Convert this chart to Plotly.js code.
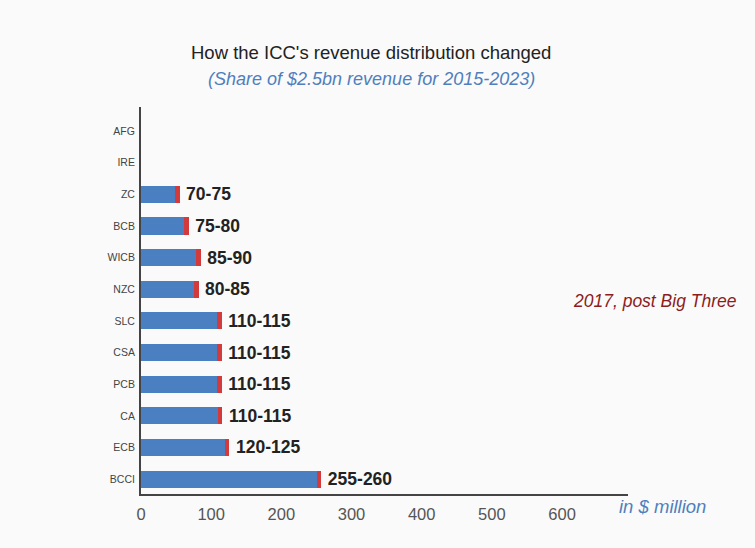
<!DOCTYPE html>
<html>
<head>
<meta charset="utf-8">
<script src="https://cdn.plot.ly/plotly-3.0.1.min.js"></script>
<style>
html,body{margin:0;padding:0;background:#fafafa;}
#chart{width:755px;height:548px;}
</style>
</head>
<body>
<div id="chart"></div>
<script>
// Boards, bottom to top
var boards = ["BCCI","ECB","CA","PCB","CSA","SLC","NZC","WICB","BCB","ZC","IRE","AFG"];
// Blue segment end (lower bound as drawn), $ million
var lowerVals = [251, 120, 110, 108, 108, 108, 75, 79, 61, 48, null, null];
// Red segment end (upper bound as drawn), $ million
var upperVals = [257, 126, 116, 115, 115, 115, 82, 85, 68, 55, null, null];
// Value labels
var rangeLabels = ["255-260","120-125","110-115","110-115","110-115","110-115","80-85","85-90","75-80","70-75","",""];
var xTicks = [0,100,200,300,400,500,600];

var redWidths = upperVals.map(function(u,i){ return (u===null||lowerVals[i]===null)?null:u-lowerVals[i]; });

var FONT = 'Liberation Sans, Arial, sans-serif';
var traces = [
  {type:'bar', orientation:'h', y:boards, x:lowerVals,
   marker:{color:'#4a7fc2', line:{width:0}}, hoverinfo:'skip', showlegend:false},
  {type:'bar', orientation:'h', y:boards, x:redWidths,
   marker:{color:'#d23a3c', line:{width:0}}, hoverinfo:'skip', showlegend:false,
   text:rangeLabels.map(function(t){return t ? '\u2009' + t : t;}), textposition:'outside', cliponaxis:false, constraintext:'none',
   textfont:{family:FONT, size:17.5, color:'#222', weight:'bold'}}
];

var pw = 755-141-127, ph = 548-107-54;
function px(x){ return (x-141)/pw; }
function py(y){ return (548-54-y)/ph; }

var layout = {
  width:755, height:548,
  paper_bgcolor:'#fafafa', plot_bgcolor:'#fafafa',
  barmode:'stack', bargap:0.46,
  margin:{l:141, r:127, t:107, b:54},
  showlegend:false,
  font:{family:FONT},
  xaxis:{
    range:[0,694], tickvals:xTicks, ticktext:xTicks.map(String),
    showgrid:false, zeroline:false, showline:true, linecolor:'#444', linewidth:2,
    ticks:'', tickfont:{size:16.5, color:'#555'}, ticklabelstandoff:4, fixedrange:true
  },
  yaxis:{
    type:'category', categoryorder:'array', categoryarray:boards,
    range:[-0.47, 11.76],
    showgrid:false, zeroline:false, showline:true, linecolor:'#444', linewidth:2,
    ticks:'', tickfont:{size:10.5, color:'#444'}, ticklabelstandoff:2, fixedrange:true
  },
  annotations:[
    {text:"How the ICC's revenue distribution changed", xref:'paper', yref:'paper',
     x:px(371), y:py(53), xanchor:'center', yanchor:'middle', showarrow:false,
     font:{size:18.5, color:'#222'}},
    {text:'<i>(Share of $2.5bn revenue for 2015-2023)</i>', xref:'paper', yref:'paper',
     x:px(371), y:py(79), xanchor:'center', yanchor:'middle', showarrow:false,
     font:{size:18, color:'#4f7fbd'}},
    {text:'<i>2017, post Big Three</i>', xref:'paper', yref:'paper',
     x:px(655), y:py(301), xanchor:'center', yanchor:'middle', showarrow:false,
     font:{size:17.5, color:'#8b1d1d'}},
    {text:'<i>in $ million</i>', xref:'paper', yref:'paper',
     x:px(662), y:py(507), xanchor:'center', yanchor:'middle', showarrow:false,
     font:{size:18.5, color:'#4f7fbd'}}
  ]
};

Plotly.newPlot('chart', traces, layout, {displayModeBar:false, staticPlot:true});
</script>
</body>
</html>
